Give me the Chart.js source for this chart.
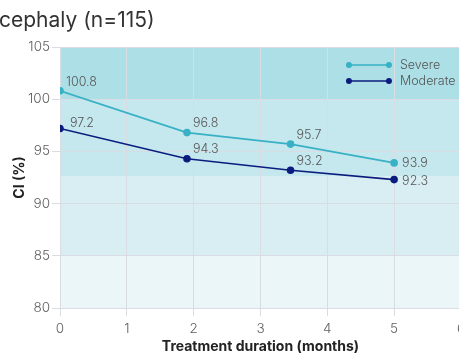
<!DOCTYPE html>
<html>
<head>
<meta charset="utf-8">
<script src="https://cdn.jsdelivr.net/npm/chart.js@4"></script>
<style>
  html, body { margin: 0; padding: 0; overflow: hidden; background: #fff; width: 459px; height: 355px; }
  #wrap { position: relative; width: 470px; height: 355px; }
</style>
</head>
<body>
<div id="wrap"><canvas id="c" width="470" height="355"></canvas></div>
<script>
// Cephalic index over the course of treatment, by severity group
const titleText = 'cephaly (n=115)';
const seriesNames = ['Severe', 'Moderate'];
const months = [0, 1.9, 3.45, 5];
const severe = [100.8, 96.8, 95.7, 93.9];
const moderate = [97.2, 94.3, 93.2, 92.3];
const seriesColors = ['#38b1c4', '#0b1c7e'];

// Horizontal severity bands (CI ranges), bottom to top
const bandEdges = [80, 85, 92.6, 100, 105];
const bandColors = ['#ebf6f8', '#d8eef3', '#c5e7ee', '#addfe6'];

const xMin = 0, xMax = 6, xStep = 1;
const yMin = 80, yMax = 105, yStep = 5;

const FONT = 'Inter, "Liberation Sans", sans-serif';
const gridColor = '#d9dce3';
const tickColor = '#606060';

function toPoints(xs, ys) { return xs.map((x, i) => ({ x: x, y: ys[i] })); }

const bandsPlugin = {
  id: 'bands',
  beforeDraw(chart) {
    const { ctx, chartArea: a, scales: { y } } = chart;
    ctx.save();
    for (let i = 0; i < bandColors.length; i++) {
      const top = y.getPixelForValue(bandEdges[i + 1]);
      const bot = y.getPixelForValue(bandEdges[i]);
      ctx.fillStyle = bandColors[i];
      ctx.fillRect(a.left, top, a.right - a.left, bot - top);
    }
    ctx.restore();
  }
};

const titlePlugin = {
  id: 'titleText',
  afterDraw(chart) {
    const ctx = chart.ctx;
    ctx.save();
    ctx.font = '21px ' + FONT;
    ctx.fillStyle = '#333333';
    ctx.textAlign = 'left';
    ctx.textBaseline = 'alphabetic';
    ctx.fillText(titleText, -1, 27);
    ctx.restore();
  }
};

const valueLabels = {
  id: 'valueLabels',
  afterDatasetsDraw(chart) {
    const ctx = chart.ctx;
    ctx.save();
    ctx.font = '300 12.5px ' + FONT;
    ctx.fillStyle = '#555555';
    ctx.textAlign = 'left';
    ctx.textBaseline = 'middle';
    chart.data.datasets.forEach((ds, di) => {
      const meta = chart.getDatasetMeta(di);
      meta.data.forEach((pt, i) => {
        const v = ds.data[i].y;
        const last = i === meta.data.length - 1;
        const dx = last ? 8 : (i === 0 && di === 1 ? 10 : 6);
        const dy = last ? (di === 1 ? 2 : 0) : (di === 1 && i === 0 ? -5 : -9);
        ctx.fillText(v.toFixed(1), pt.x + dx, pt.y + dy);
      });
    });
    ctx.restore();
  }
};

const legendPlugin = {
  id: 'lineLegend',
  afterDraw(chart) {
    const { ctx, chartArea: a } = chart;
    ctx.save();
    ctx.font = '300 12.5px ' + FONT;
    ctx.textAlign = 'left';
    ctx.textBaseline = 'middle';
    chart.data.datasets.forEach((ds, i) => {
      const y = a.top + 18 + i * 16;
      const x0 = a.right - 112, x1 = a.right - 72;
      ctx.strokeStyle = ds.borderColor;
      ctx.lineWidth = 1.6;
      ctx.beginPath(); ctx.moveTo(x0, y); ctx.lineTo(x1, y); ctx.stroke();
      ctx.fillStyle = ds.borderColor;
      [x0, x1].forEach(x => { ctx.beginPath(); ctx.arc(x, y, 3, 0, Math.PI * 2); ctx.fill(); });
      ctx.fillStyle = '#555555';
      ctx.fillText(ds.label, a.right - 61, y);
    });
    ctx.restore();
  }
};

new Chart(document.getElementById('c'), {
  type: 'line',
  data: {
    datasets: [
      { label: seriesNames[0], data: toPoints(months, severe) },
      { label: seriesNames[1], data: toPoints(months, moderate) }
    ].map((d, i) => Object.assign(d, {
      borderColor: seriesColors[i],
      backgroundColor: seriesColors[i],
      pointBackgroundColor: seriesColors[i],
      pointBorderColor: seriesColors[i],
      borderWidth: 1.6,
      pointRadius: 3,
      tension: 0,
      fill: false
    }))
  },
  options: {
    responsive: false,
    animation: false,
    devicePixelRatio: 1,
    layout: { padding: { top: 47, right: 9, left: 0, bottom: 0 } },
    plugins: { legend: { display: false }, title: { display: false }, tooltip: { enabled: false } },
    scales: {
      x: {
        type: 'linear', min: xMin, max: xMax,
        afterFit(s) { s.height = 47; },
        ticks: { stepSize: xStep, padding: 5, color: tickColor, font: { family: FONT, size: 13.5, weight: 300 } },
        grid: { color: gridColor, tickLength: 8, tickColor: gridColor },
        border: { color: gridColor },
        title: { display: true, text: 'Treatment duration (months)', color: '#222222',
                 font: { family: FONT, size: 14, weight: 'bold' }, padding: { top: 0, bottom: 0 } }
      },
      y: {
        min: yMin, max: yMax,
        afterFit(s) { s.width = 60; },
        ticks: { stepSize: yStep, padding: 2, color: tickColor, font: { family: FONT, size: 13.5, weight: 300 } },
        grid: { color: gridColor, tickLength: 8, tickColor: gridColor },
        border: { color: gridColor },
        title: { display: true, text: 'CI (%)', color: '#222222',
                 font: { family: FONT, size: 14, weight: 'bold' }, padding: { top: 11, bottom: 0 } }
      }
    }
  },
  plugins: [bandsPlugin, valueLabels, legendPlugin, titlePlugin]
});
</script>
</body>
</html>
